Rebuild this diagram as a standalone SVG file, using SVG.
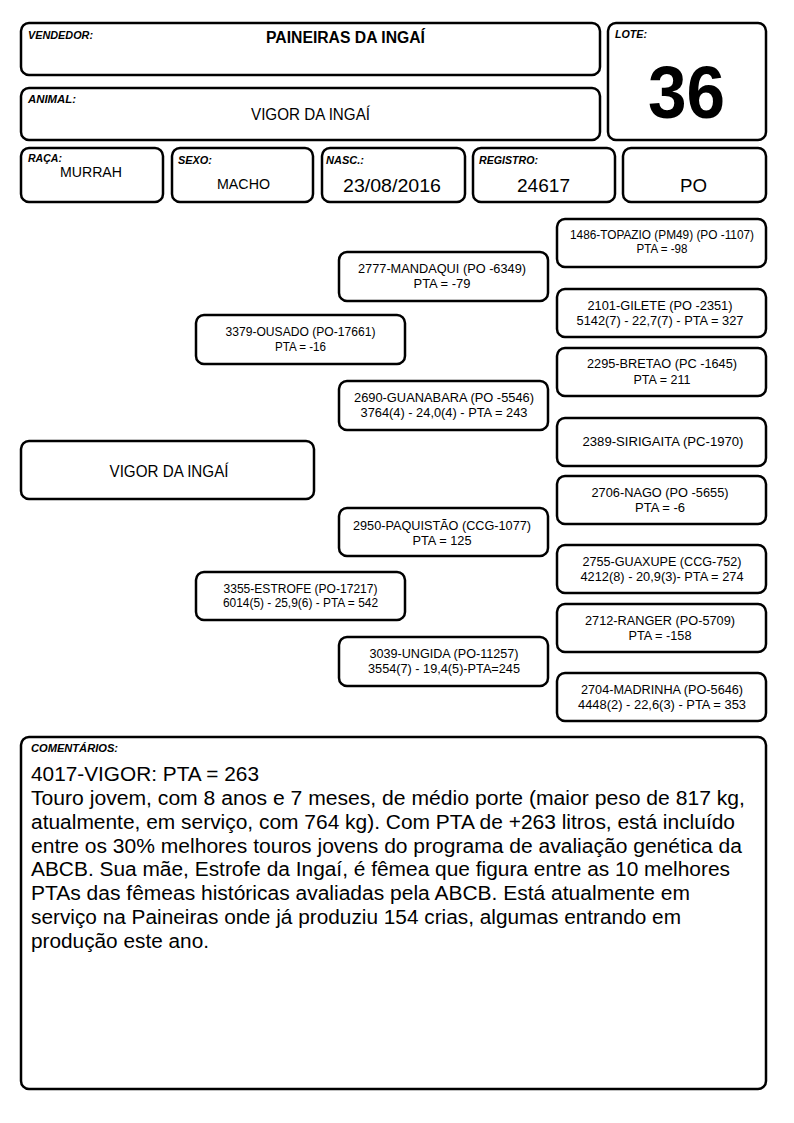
<svg xmlns="http://www.w3.org/2000/svg" width="794" height="1123" viewBox="0 0 794 1123">
<style>
.box{fill:#fff;stroke:#000;stroke-width:2.5}
text{font-family:"Liberation Sans",Arial,sans-serif;fill:#000}
.lbl{font-size:10px;font-weight:bold;font-style:italic}
.val{text-anchor:middle}
.ped{font-size:12.5px;text-anchor:middle}
.com{font-size:20px}
</style>
<rect width="794" height="1123" fill="#fff"/>
<g id="vendedor">
<rect class="box" x="21" y="23" width="579" height="52" rx="8"/>
<text class="lbl" x="28" y="39" textLength="65" lengthAdjust="spacingAndGlyphs">VENDEDOR:</text>
<text class="val" x="345.5" y="43" font-size="16" font-weight="bold" textLength="159" lengthAdjust="spacingAndGlyphs">PAINEIRAS DA INGAÍ</text>
</g>
<g id="animal">
<rect class="box" x="21" y="88" width="579" height="52" rx="8"/>
<text class="lbl" x="28" y="103" textLength="48" lengthAdjust="spacingAndGlyphs">ANIMAL:</text>
<text class="val" x="310.5" y="120" font-size="16" textLength="119" lengthAdjust="spacingAndGlyphs">VIGOR DA INGAÍ</text>
</g>
<g id="lote">
<rect class="box" x="608" y="23" width="158" height="117" rx="8"/>
<text class="lbl" x="615" y="38" textLength="32" lengthAdjust="spacingAndGlyphs">LOTE:</text>
<text class="val" x="686.5" y="118" font-size="74" font-weight="bold" textLength="77" lengthAdjust="spacingAndGlyphs">36</text>
</g>
<g id="raca">
<rect class="box" x="21" y="148" width="142" height="54" rx="8"/>
<text class="lbl" x="28" y="162" textLength="34" lengthAdjust="spacingAndGlyphs">RAÇA:</text>
<text class="val" x="91" y="177" font-size="14" textLength="62" lengthAdjust="spacingAndGlyphs">MURRAH</text>
</g>
<g id="sexo">
<rect class="box" x="172" y="148" width="141" height="54" rx="8"/>
<text class="lbl" x="178" y="164" textLength="34" lengthAdjust="spacingAndGlyphs">SEXO:</text>
<text class="val" x="243.5" y="189" font-size="14.5" textLength="53" lengthAdjust="spacingAndGlyphs">MACHO</text>
</g>
<g id="nasc">
<rect class="box" x="322" y="148" width="143" height="54" rx="8"/>
<text class="lbl" x="326" y="164" textLength="38" lengthAdjust="spacingAndGlyphs">NASC.:</text>
<text class="val" x="392" y="192" font-size="19" textLength="98" lengthAdjust="spacingAndGlyphs">23/08/2016</text>
</g>
<g id="registro">
<rect class="box" x="473" y="148" width="142" height="54" rx="8"/>
<text class="lbl" x="479" y="164" textLength="59" lengthAdjust="spacingAndGlyphs">REGISTRO:</text>
<text class="val" x="543.5" y="192" font-size="19" textLength="53" lengthAdjust="spacingAndGlyphs">24617</text>
</g>
<g id="categoria">
<rect class="box" x="623" y="148" width="143" height="54" rx="8"/>
<text class="val" x="693.5" y="192" font-size="19" textLength="27" lengthAdjust="spacingAndGlyphs">PO</text>
</g>
<g id="connectors"></g>
<g id="vigor">
<rect class="box" x="21" y="441" width="293" height="58" rx="8"/>
<text class="val" x="169" y="477" font-size="16" textLength="119" lengthAdjust="spacingAndGlyphs">VIGOR DA INGAÍ</text>
</g>
<g id="ousado">
<rect class="box" x="196" y="315" width="209" height="49" rx="8"/>
<text class="ped" x="300.5" y="336" textLength="150" lengthAdjust="spacingAndGlyphs">3379-OUSADO (PO-17661)</text>
<text class="ped" x="300.5" y="351" textLength="51" lengthAdjust="spacingAndGlyphs">PTA = -16</text>
</g>
<g id="estrofe">
<rect class="box" x="196" y="572" width="209" height="48" rx="8"/>
<text class="ped" x="300.5" y="593" textLength="154" lengthAdjust="spacingAndGlyphs">3355-ESTROFE (PO-17217)</text>
<text class="ped" x="300.5" y="607" textLength="155" lengthAdjust="spacingAndGlyphs">6014(5) - 25,9(6) - PTA = 542</text>
</g>
<g id="mandaqui">
<rect class="box" x="339" y="252" width="209" height="49" rx="8"/>
<text class="ped" x="442" y="273" textLength="168" lengthAdjust="spacingAndGlyphs">2777-MANDAQUI (PO -6349)</text>
<text class="ped" x="442" y="288" textLength="57" lengthAdjust="spacingAndGlyphs">PTA = -79</text>
</g>
<g id="guanabara">
<rect class="box" x="339" y="381" width="209" height="49" rx="8"/>
<text class="ped" x="444" y="402" textLength="180" lengthAdjust="spacingAndGlyphs">2690-GUANABARA (PO -5546)</text>
<text class="ped" x="444" y="417" textLength="167" lengthAdjust="spacingAndGlyphs">3764(4) - 24,0(4) - PTA = 243</text>
</g>
<g id="paquistao">
<rect class="box" x="339" y="508" width="209" height="48" rx="8"/>
<text class="ped" x="442" y="530" textLength="178" lengthAdjust="spacingAndGlyphs">2950-PAQUISTÃO (CCG-1077)</text>
<text class="ped" x="442" y="545" textLength="59" lengthAdjust="spacingAndGlyphs">PTA = 125</text>
</g>
<g id="ungida">
<rect class="box" x="339" y="637" width="209" height="49" rx="8"/>
<text class="ped" x="444" y="658" textLength="149" lengthAdjust="spacingAndGlyphs">3039-UNGIDA (PO-11257)</text>
<text class="ped" x="444" y="673" textLength="152" lengthAdjust="spacingAndGlyphs">3554(7) - 19,4(5)-PTA=245</text>
</g>
<g id="topazio">
<rect class="box" x="557" y="219" width="209" height="48" rx="8"/>
<text class="ped" x="662" y="239" textLength="184" lengthAdjust="spacingAndGlyphs">1486-TOPAZIO (PM49) (PO -1107)</text>
<text class="ped" x="662" y="253" textLength="51" lengthAdjust="spacingAndGlyphs">PTA = -98</text>
</g>
<g id="gilete">
<rect class="box" x="557" y="289" width="209" height="48" rx="8"/>
<text class="ped" x="660" y="310" textLength="145" lengthAdjust="spacingAndGlyphs">2101-GILETE (PO -2351)</text>
<text class="ped" x="660" y="325" textLength="167" lengthAdjust="spacingAndGlyphs">5142(7) - 22,7(7) - PTA = 327</text>
</g>
<g id="bretao">
<rect class="box" x="557" y="348" width="209" height="48" rx="8"/>
<text class="ped" x="662" y="368" textLength="150" lengthAdjust="spacingAndGlyphs">2295-BRETAO (PC -1645)</text>
<text class="ped" x="662" y="384" textLength="57" lengthAdjust="spacingAndGlyphs">PTA = 211</text>
</g>
<g id="sirigaita">
<rect class="box" x="557" y="418" width="209" height="48" rx="8"/>
<text class="ped" x="663" y="446" textLength="161" lengthAdjust="spacingAndGlyphs">2389-SIRIGAITA (PC-1970)</text>
</g>
<g id="nago">
<rect class="box" x="557" y="476" width="209" height="48" rx="8"/>
<text class="ped" x="660" y="497" textLength="137" lengthAdjust="spacingAndGlyphs">2706-NAGO (PO -5655)</text>
<text class="ped" x="660" y="512" textLength="50" lengthAdjust="spacingAndGlyphs">PTA = -6</text>
</g>
<g id="guaxupe">
<rect class="box" x="557" y="545" width="209" height="48" rx="8"/>
<text class="ped" x="662" y="566" textLength="159" lengthAdjust="spacingAndGlyphs">2755-GUAXUPE (CCG-752)</text>
<text class="ped" x="662" y="581" textLength="163" lengthAdjust="spacingAndGlyphs">4212(8) - 20,9(3)- PTA = 274</text>
</g>
<g id="ranger">
<rect class="box" x="557" y="604" width="209" height="48" rx="8"/>
<text class="ped" x="660" y="625" textLength="150" lengthAdjust="spacingAndGlyphs">2712-RANGER (PO-5709)</text>
<text class="ped" x="660" y="640" textLength="63" lengthAdjust="spacingAndGlyphs">PTA = -158</text>
</g>
<g id="madrinha">
<rect class="box" x="557" y="673" width="209" height="48" rx="8"/>
<text class="ped" x="662" y="694" textLength="162" lengthAdjust="spacingAndGlyphs">2704-MADRINHA (PO-5646)</text>
<text class="ped" x="662" y="709" textLength="168" lengthAdjust="spacingAndGlyphs">4448(2) - 22,6(3) - PTA = 353</text>
</g>
<g id="comentarios">
<rect class="box" x="21" y="737" width="745" height="352" rx="8"/>
<text class="lbl" x="31" y="752" font-size="9" textLength="87" lengthAdjust="spacingAndGlyphs">COMENTÁRIOS:</text>
<text class="com" x="31" y="781" textLength="228" lengthAdjust="spacingAndGlyphs">4017-VIGOR: PTA = 263</text>
<text class="com" x="31" y="805" textLength="714" lengthAdjust="spacingAndGlyphs">Touro jovem, com 8 anos e 7 meses, de médio porte (maior peso de 817 kg,</text>
<text class="com" x="31" y="829" textLength="704" lengthAdjust="spacingAndGlyphs">atualmente, em serviço, com 764 kg). Com PTA de +263 litros, está incluído</text>
<text class="com" x="31" y="853" textLength="711" lengthAdjust="spacingAndGlyphs">entre os 30% melhores touros jovens do programa de avaliação genética da</text>
<text class="com" x="31" y="876" textLength="699" lengthAdjust="spacingAndGlyphs">ABCB. Sua mãe, Estrofe da Ingaí, é fêmea que figura entre as 10 melhores</text>
<text class="com" x="31" y="900" textLength="659" lengthAdjust="spacingAndGlyphs">PTAs das fêmeas históricas avaliadas pela ABCB. Está atualmente em</text>
<text class="com" x="31" y="924" textLength="650" lengthAdjust="spacingAndGlyphs">serviço na Paineiras onde já produziu 154 crias, algumas entrando em</text>
<text class="com" x="31" y="948" textLength="178" lengthAdjust="spacingAndGlyphs">produção este ano.</text>
</g>
</svg>
